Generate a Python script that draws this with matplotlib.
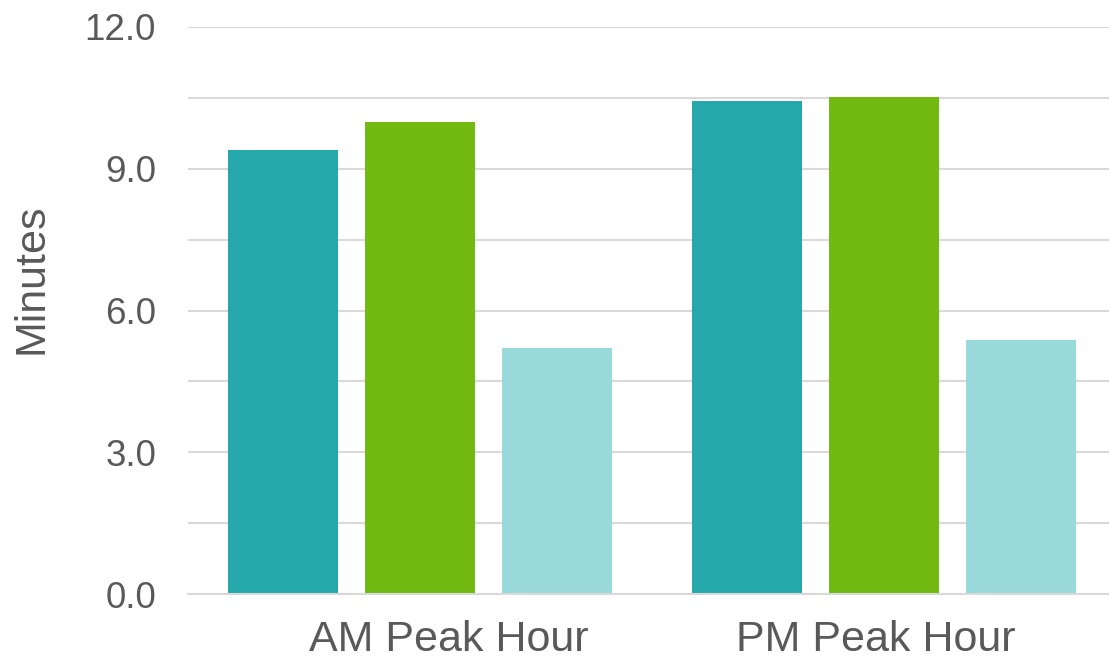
import matplotlib
matplotlib.use("Agg")
import matplotlib.pyplot as plt
import matplotlib.transforms as mtransforms
import numpy as np

categories = ["AM Peak Hour", "PM Peak Hour"]
series_a = [9.40, 10.43]
series_b = [9.99, 10.52]
series_c = [5.21, 5.38]
yticks = [0.0, 3.0, 6.0, 9.0, 12.0]

colors = ["#24A8A9", "#72BA12", "#98D9D9"]
text_color = "#595959"
grid_color = "#D9D9D9"

plt.rcParams['font.family'] = ['Liberation Sans', 'DejaVu Sans']

W, H = 1109, 660
fig = plt.figure(figsize=(W / 100, H / 100), dpi=100)
left, right, top, bottom = 188, 1109, 27, 594
ax = fig.add_axes([left / W, 1 - bottom / H, (right - left) / W, (bottom - top) / H])

x = np.arange(len(categories))
bw = 0.237
off = 0.295
for i, (vals, c) in enumerate(zip([series_a, series_b, series_c], colors)):
    ax.bar(x + (i - 1) * off, vals, width=bw, color=c, zorder=3)

ax.set_ylim(0, 12)
ax.set_xlim(-0.5, -0.5 + (right - left) / 464)
ax.set_yticks(yticks)
ax.set_yticklabels([f"{v:.1f}" for v in yticks])
ax.set_yticks(np.arange(0, 12.01, 1.5), minor=True)
ax.grid(axis='y', which='both', color=grid_color, linewidth=1.5, zorder=0)
ax.tick_params(axis='y', which='both', length=0, pad=23, labelsize=26.5, labelcolor=text_color)
ax.set_xticks(x)
ax.set_xticklabels(categories)
ax.tick_params(axis='x', length=0, pad=19, labelsize=31, labelcolor=text_color)
# small horizontal shifts of category labels, as in the reference
for lbl, dx in zip(ax.get_xticklabels(), [29, -8]):
    lbl.set_transform(lbl.get_transform() + mtransforms.ScaledTranslation(dx / 100, 0, fig.dpi_scale_trans))
for s in ['top', 'right', 'left']:
    ax.spines[s].set_visible(False)
ax.spines['bottom'].set_color(grid_color)
ax.spines['bottom'].set_linewidth(1.5)
ax.spines['bottom'].set_zorder(4)
fig.text(32 / W, 1 - 279 / H, "Minutes", rotation=90, ha='center', va='center',
         fontsize=31, color=text_color)

fig.savefig("out.png", dpi=100)
